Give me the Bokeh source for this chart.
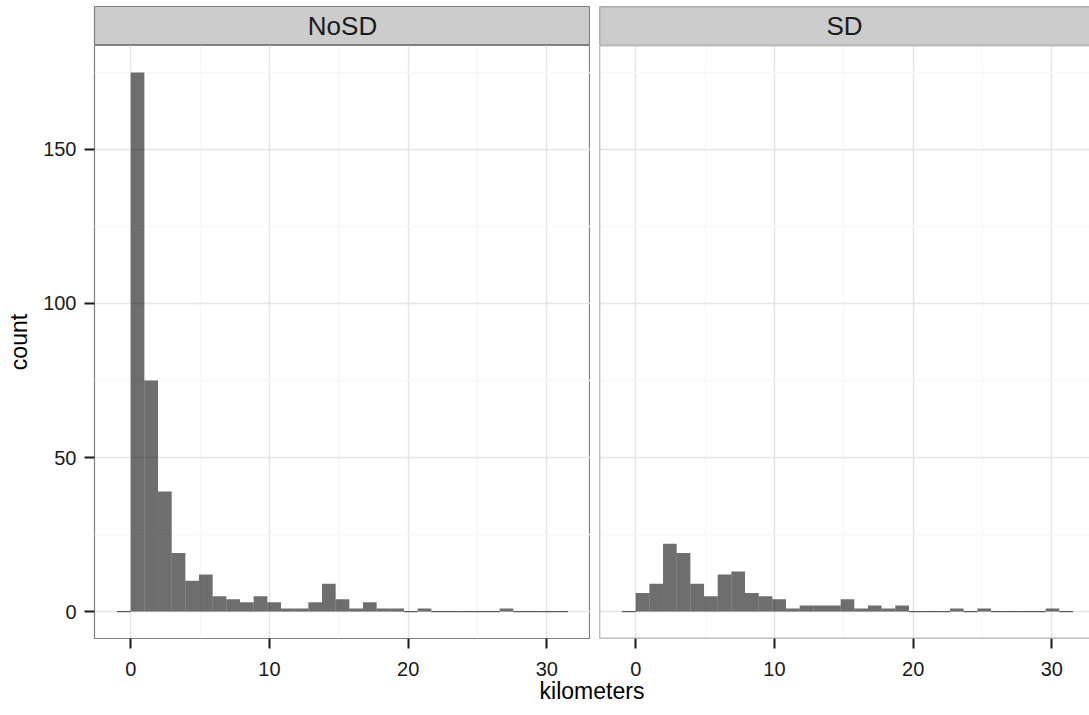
from bokeh.plotting import figure
from bokeh.layouts import column, row
from bokeh.models import ColumnDataSource, FixedTicker, Range1d, Span
from bokeh.core.properties import value
from bokeh.embed import file_html
from bokeh.resources import INLINE

# ---- data ----
facets = ["NoSD", "SD"]
bin_origin = -0.985
bin_width = 0.985
nosd_counts = [0, 175, 75, 39, 19, 10, 12, 5, 4, 3, 5, 3, 1, 1, 3, 9, 4, 1, 3, 1, 1, 0, 1,
               0, 0, 0, 0, 0, 1, 0, 0, 0, 0]
sd_counts = [0, 6, 9, 22, 19, 9, 5, 12, 13, 6, 5, 4, 1, 2, 2, 2, 4, 1, 2, 1, 2, 0, 0, 0, 1,
             0, 1, 0, 0, 0, 0, 1, 0]
x_ticks = [0, 10, 20, 30]
x_minor = [5, 15, 25]
y_ticks = [0, 50, 100, 150]
y_minor = [25, 75, 125, 175]
x_title = "kilometers"
y_title = "count"

FONT = "Liberation Sans"
BORDER = "#7F7F7F"
GRID_MAJOR = "#E5E5E5"
GRID_MINOR = "#F7F7F7"

# ---- layout geometry ----
LEFT = 94
GAP = 9
FRAME1_W = 496
FRAME2_W = 490
STRIP_TOP = 6
STRIP_H = 39
FRAME_H = 599
BOTTOM = 34
LABEL_H = 24

ymax = max(max(nosd_counts), max(sd_counts))
y_rng = (-0.05 * ymax, 1.05 * ymax)
x_lo = bin_origin
x_hi = bin_origin + bin_width * len(nosd_counts)
span = x_hi - x_lo
x_start = x_lo - 0.05 * span
x_end1 = x_hi + 0.05 * span
px_per_km = FRAME1_W / (x_end1 - x_start)
x_end2 = x_start + FRAME2_W / px_per_km


def make_source(counts):
    lefts = [bin_origin + i * bin_width for i in range(len(counts))]
    rights = [l + bin_width for l in lefts]
    la = [0.6 if c == 0 else 0.0 for c in counts]
    return ColumnDataSource(dict(left=lefts, right=rights, top=counts,
                                 bottom=[0] * len(counts), la=la))


def open_right_border(fig, x0, y0, y1):
    # panel cut off at the right edge: draw only left, top and bottom borders
    fig.outline_line_color = None
    fig.add_layout(Span(location=x0, dimension="height", line_color=BORDER, line_width=1.4))
    fig.add_layout(Span(location=y0, dimension="width", line_color=BORDER, line_width=1.4))
    fig.add_layout(Span(location=y1, dimension="width", line_color=BORDER, line_width=1.4))


def strip(label, width, left_border, open_right=False):
    s = figure(width=width, height=STRIP_TOP + STRIP_H, output_backend="svg",
               toolbar_location=None,
               x_range=Range1d(0, 1), y_range=Range1d(0, 1),
               min_border_left=left_border, min_border_right=0,
               min_border_top=STRIP_TOP, min_border_bottom=0)
    s.axis.visible = False
    s.grid.visible = False
    s.background_fill_color = "#CCCCCC"
    s.border_fill_color = "white"
    s.outline_line_color = BORDER
    s.outline_line_width = 1.2
    if open_right:
        open_right_border(s, 0, 0, 1)
    s.text(x=[0.5], y=[0.5], text=[label], text_align="center", text_baseline="middle",
           text_font=value(FONT), text_font_size="26px", text_color="#1a1a1a")
    return s


def panel(counts, width, left_border, x_end, show_y, open_right=False):
    p = figure(width=width, height=FRAME_H + BOTTOM, output_backend="svg",
               toolbar_location=None,
               x_range=Range1d(x_start, x_end), y_range=Range1d(*y_rng),
               min_border_left=left_border, min_border_right=0,
               min_border_top=0, min_border_bottom=BOTTOM)
    p.background_fill_color = "white"
    p.border_fill_color = "white"
    p.outline_line_color = BORDER
    p.outline_line_width = 1.2

    p.xgrid.ticker = FixedTicker(ticks=x_ticks, minor_ticks=x_minor)
    p.ygrid.ticker = FixedTicker(ticks=y_ticks, minor_ticks=y_minor)
    for g in (p.xgrid, p.ygrid):
        g.grid_line_color = GRID_MAJOR
        g.grid_line_width = 1.5
        g.minor_grid_line_color = GRID_MINOR
        g.minor_grid_line_width = 1.5

    p.xaxis.ticker = FixedTicker(ticks=x_ticks)
    p.yaxis.ticker = FixedTicker(ticks=y_ticks)
    for ax in (p.xaxis, p.yaxis):
        ax.axis_line_color = None
        ax.minor_tick_line_color = None
        ax.major_tick_in = 0
        ax.major_tick_out = 10
        ax.major_tick_line_color = "#1a1a1a"
        ax.major_tick_line_width = 2
        ax.major_label_text_font = FONT
        ax.major_label_text_font_size = "20px"
        ax.major_label_text_color = "#1a1a1a"
    p.xaxis.major_label_standoff = 13
    p.yaxis.major_label_standoff = 8
    if show_y:
        p.yaxis.axis_label = y_title
        p.yaxis.axis_label_text_font = FONT
        p.yaxis.axis_label_text_font_size = "23px"
        p.yaxis.axis_label_text_font_style = "normal"
        p.yaxis.axis_label_text_color = "black"
        p.yaxis.axis_label_standoff = 8
    else:
        p.yaxis.visible = False

    src = make_source(counts)
    p.quad(left="left", right="right", top="top", bottom="bottom", source=src,
           fill_color="black", fill_alpha=0.57, line_color="black", line_alpha="la",
           line_width=1.2)
    if open_right:
        open_right_border(p, x_start, y_rng[0], y_rng[1])
    return p


s1 = strip(facets[0], LEFT + FRAME1_W, LEFT)
s2 = strip(facets[1], GAP + FRAME2_W, GAP, open_right=True)
p1 = panel(nosd_counts, LEFT + FRAME1_W, LEFT, x_end1, True)
p2 = panel(sd_counts, GAP + FRAME2_W, GAP, x_end2, False, open_right=True)

lab = figure(width=LEFT + FRAME1_W + GAP + FRAME2_W, height=LABEL_H, output_backend="svg",
             toolbar_location=None, x_range=Range1d(0, 1), y_range=Range1d(0, 1),
             min_border_left=LEFT, min_border_right=0, min_border_top=0,
             min_border_bottom=0)
lab.axis.visible = False
lab.grid.visible = False
lab.outline_line_color = None
lab.text(x=[0.5], y=[0.5], text=[x_title], text_align="center", text_baseline="middle",
         text_font=value(FONT), text_font_size="23px", text_color="black")

layout = column(row(s1, s2), row(p1, p2), lab)

with open("out.html", "w") as f:
    f.write(file_html(layout, INLINE))
